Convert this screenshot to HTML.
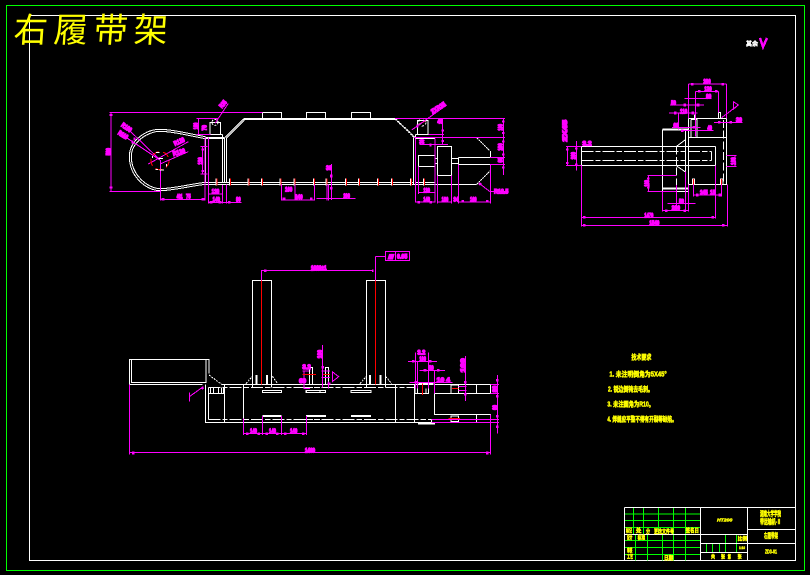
<!DOCTYPE html>
<html><head><meta charset="utf-8"><style>
html,body{margin:0;padding:0;background:#000}
svg{display:block}
path,rect,circle{shape-rendering:crispEdges}
.w{fill:none;stroke:#fff;stroke-width:3}
.wt{fill:none;stroke:#fff;stroke-width:6}
.m{fill:none;stroke:#f0f;stroke-width:3}
.k{fill:none;stroke:#f0f;stroke-width:8}
.r{fill:none;stroke:#f00;stroke-width:3}
.g{fill:none;stroke:#0f0;stroke-width:3}
text{font-family:"Liberation Sans","Noto Sans CJK SC",sans-serif}
.t text{fill:#f0f;font-size:20px;font-weight:bold;stroke:#f0f;stroke-width:4}
.y text{fill:#ff0;font-weight:bold;stroke:#ff0;stroke-width:1.5}
</style></head><body>
<svg width="810" height="575" viewBox="0 0 810 575" xmlns="http://www.w3.org/2000/svg">
<rect width="810" height="575" fill="#000"/>
<rect x="6.5" y="5.5" width="798" height="565" fill="none" stroke="#0f0"/>
<rect x="29.5" y="15.5" width="766" height="545" fill="none" stroke="#fff"/>
<text x="0" y="0" font-size="34" letter-spacing="6" fill="#ff0" transform="translate(13 42) skewX(-4)">右履带架</text>
<text x="746" y="46" font-size="6" fill="#fff" font-weight="bold" stroke="#fff" stroke-width=".4">其余</text>
<path d="M760 38l3 9 4-9" fill="none" stroke="#f0f" stroke-width="2.5"/>

<!-- side view left -->
<g transform="translate(90 90) scale(.33333)">
<path class="w" d="M346 140C300 132 250 118 210 118C170 118 118 150 118 200C118 260 170 302 210 302C250 302 300 288 346 283"/>
<path class="w" d="M346 146C300 138 250 124 210 124C175 124 124 155 124 200C124 256 175 296 210 296C250 296 300 282 346 277"/>
<path class="w" d="M346 277H780M346 283H780"/>
<path class="wt" d="M460 87H780"/>
<path class="w" d="M518 86V67H575V86M649 86V67H707V86"/>
<path class="w" d="M460 87L405 142M463 90L410 143"/>
<path class="w" d="M346 142V277M398 133V277M404 142V277M410 143V277M327 133H398M360 133V97H392V133"/>
<path class="wt" d="M346 144H404"/>
<path class="w" d="M378 265V287M418 265V287M474 265V287M514 265V287M570 265V287M612 265V287M670 265V287M708 265V287M766 265V287"/>
<path class="r" d="M381 265V287M421 265V287M477 265V287M517 265V287M573 265V287M615 265V287M673 265V287M711 265V287M769 265V287"/>
<path class="m" d="M58 67H518M58 304H210M63 67V304M211 210V332M210 328H345M345 142V332M355 142V340M398 285V340M355 337H455M355 312H398M410 283V340M338 170V250M332 170H352M332 252H352M320 85H385M320 133H362M325 85V133M375 100L415 40M210 210L90 130M210 210L115 118M175 222L295 155M210 222L295 185M575 283V332M615 283V332M575 330H672M673 283V332M680 325H780M711 283V332M716 283V332M724 222V330"/>
<path class="k" d="M63 72v6M63 290v6M215 328h8M335 328h8M359 337h8M386 337h8M414 337h8M338 176v6M338 240v6M130 146h6M124 156h6M578 327h8M660 327h8M720 258h8M720 295h8"/>
<circle cx="210" cy="212" r="27" fill="none" stroke="#f00" stroke-width="3" stroke-dasharray="22 12"/>
<path class="w" d="M198 187h10M188 198v6M196 238h8M208 240h14M230 222v8M205 205h14"/>
<circle cx="375" cy="97" r="9" fill="none" stroke="#fff" stroke-width="3" stroke-dasharray="6 4"/>
<g class="t">
<text x="260" y="326" textLength="18" lengthAdjust="spacingAndGlyphs">461</text>
<text x="288" y="326" textLength="14" lengthAdjust="spacingAndGlyphs">75</text>
<text x="365" y="310" textLength="23" lengthAdjust="spacingAndGlyphs">130</text>
<text x="368" y="335" textLength="22" lengthAdjust="spacingAndGlyphs">140</text>
<text x="438" y="335" textLength="14" lengthAdjust="spacingAndGlyphs">80</text>
<text x="585" y="305" textLength="22" lengthAdjust="spacingAndGlyphs">160</text>
<text x="615" y="327" textLength="23" lengthAdjust="spacingAndGlyphs">240</text>
<text x="708" y="240" textLength="17" lengthAdjust="spacingAndGlyphs">30</text>
<text x="760" y="324" textLength="20" lengthAdjust="spacingAndGlyphs">200</text>
<text x="62" y="196" textLength="22" lengthAdjust="spacingAndGlyphs" transform="rotate(-90 62 196)">580</text>
<text x="338" y="224" textLength="22" lengthAdjust="spacingAndGlyphs" transform="rotate(-90 338 224)">120</text>
<text x="324" y="118" textLength="20" lengthAdjust="spacingAndGlyphs" transform="rotate(-90 324 118)">100</text>
<text x="349" y="122" textLength="17" lengthAdjust="spacingAndGlyphs" transform="rotate(-90 349 122)">70</text>
<text x="396" y="56" textLength="24" lengthAdjust="spacingAndGlyphs" transform="rotate(-50 396 56)">R35</text>
<text x="92" y="108" textLength="34" lengthAdjust="spacingAndGlyphs" transform="rotate(35 92 108)">R100</text>
<text x="82" y="132" textLength="32" lengthAdjust="spacingAndGlyphs" transform="rotate(32 82 132)">R110</text>
<text x="255" y="168" textLength="34" lengthAdjust="spacingAndGlyphs" transform="rotate(-25 255 168)">R120</text>
<text x="250" y="198" textLength="38" lengthAdjust="spacingAndGlyphs" transform="rotate(-15 250 198)">R130</text>
</g></g>

<!-- side view right -->
<g transform="translate(340 90) scale(.33333)">
<path class="wt" d="M0 87H165"/>
<path class="w" d="M34 86V67H92V86"/>
<path class="w" d="M0 277H220M0 283H410M226 277H285"/>
<path class="w" stroke-dasharray="6 3" d="M165 87L222 142M168 87L226 143"/>
<path class="w" d="M220 142V283M226 133V283M226 133H265M226 145H285M232 133V92H264V133M285 145V283"/>
<path class="w" d="M235 230V196H285V230H235M292 256V169H335V256H292M285 206H292M285 220H292M335 206H355M335 220H355M355 203H450M355 223H450M355 203V223M451 183V203M451 243V223"/>
<path class="w" stroke-dasharray="6 2" d="M410 143L450 183M410 283L450 243"/>
<path class="w" d="M16 265V287M55 265V287M112 265V287M154 265V287M211 265V287M250 265V287"/>
<path class="r" d="M19 265V287M58 265V287M115 265V287M157 265V287M214 265V287M253 265V287M238 102L258 92"/>
<circle cx="247" cy="97" r="11" fill="none" stroke="#fff" stroke-width="3" stroke-dasharray="7 5"/>
<path class="m" d="M165 85H495M490 85V255M222 142H495M450 203H495M450 223H495M308 85V165M238 163H324M265 133H312M215 120L320 45M226 145V338M285 145V338M292 256V340M335 256V340M355 223V340M451 223V340M226 336H285M292 336H335M355 336H451M235 308H285M235 230V312M415 278L450 305H505M-2 325H46"/>
<path class="k" d="M490 92v6M490 126v6M490 152v6M490 190v6M490 230v6M308 118v6M308 150v6M268 165h6M230 108h6M418 280l5 4M232 337h8M268 337h8M364 334h8M438 334h8"/>
<g class="t">
<text x="250" y="307" textLength="20" lengthAdjust="spacingAndGlyphs">130</text>
<text x="250" y="335" textLength="20" lengthAdjust="spacingAndGlyphs">140</text>
<text x="305" y="335" textLength="20" lengthAdjust="spacingAndGlyphs">100</text>
<text x="340" y="335" textLength="15" lengthAdjust="spacingAndGlyphs">34</text>
<text x="390" y="335" textLength="20" lengthAdjust="spacingAndGlyphs">100</text>
<text x="462" y="310" textLength="43" lengthAdjust="spacingAndGlyphs">R12.5</text>
<text x="292" y="100" textLength="16" lengthAdjust="spacingAndGlyphs">40</text>
<text x="252" y="162" textLength="14" lengthAdjust="spacingAndGlyphs" transform="rotate(-90 252 162)">30</text>
<text x="488" y="122" textLength="20" lengthAdjust="spacingAndGlyphs" transform="rotate(-90 488 122)">100</text>
<text x="488" y="182" textLength="22" lengthAdjust="spacingAndGlyphs" transform="rotate(-90 488 182)">100</text>
<text x="488" y="218" textLength="16" lengthAdjust="spacingAndGlyphs" transform="rotate(-90 488 218)">60</text>
<text x="278" y="72" textLength="48" lengthAdjust="spacingAndGlyphs" transform="rotate(-32 278 72)">2XR35</text>
</g></g>

<!-- end view -->
<g transform="translate(550 70) scale(.33333)">
<path class="w" d="M94 229H497M94 287H497M94 229V287M497 229V287M485 244V272"/>
<path class="w" stroke-dasharray="36 6 16 6" d="M94 244H485M94 272H485"/>
<path class="wt" d="M337 179H415M337 356H415"/>
<path class="w" d="M337 178V365H415M407 178V360M415 145V343M415 145H530V343H415M415 203H530M530 145V343M423 203V148M441 203V148H423M380 229L405 210M380 288L405 305"/>
<path class="w" stroke-dasharray="24 8" d="M379 229V345M520 150V340"/>
<path class="w" d="M505 145V127H512V145"/>
<path class="wt" d="M435 133V148"/>
<path class="w" d="M427 343V327H434V343M511 343V327H519V343"/>
<path class="r" d="M430 327V343M515 327V343"/>
<path class="m" d="M415 42H530M415 42V145M530 42V145M436 64H505M436 64V200M505 64V127M403 85H485M360 105H462M357 129H442M385 129V178M492 157H578M366 172H452M393 182H490M515 143L565 105M550 95L565 105L550 118ZM48 229H94M48 287H94M52 229V287M79 213V302M530 256H560M530 290H560M555 256V290M94 287V470M533 343V470M94 466H533M497 287V445M94 442H497M337 365V425M415 343V425M337 422H415M352 400H437M379 345V420M406 305V420M292 317H378M292 364H378M295 317V364M430 343V380M515 343V380M430 375H515"/>
<path class="k" d="M423 43h8M514 43h8M444 64h8M495 64h8M400 105h8M440 105h8M372 129h8M424 129h8M504 157h8M538 157h8M393 182h8M428 172h8M79 232v6M79 280v6M52 236v6M52 276v6M99 442h8M484 442h8M99 466h8M516 466h8M345 422h8M400 422h8M295 323v6M295 350v6M438 375h8M505 375h8"/>
<g class="t">
<text x="460" y="40" textLength="22" lengthAdjust="spacingAndGlyphs">200</text>
<text x="463" y="63" textLength="22" lengthAdjust="spacingAndGlyphs">130</text>
<text x="468" y="85" textLength="16" lengthAdjust="spacingAndGlyphs">80</text>
<text x="363" y="105" textLength="15" lengthAdjust="spacingAndGlyphs">50</text>
<text x="390" y="130" textLength="22" lengthAdjust="spacingAndGlyphs">110</text>
<text x="558" y="156" textLength="18" lengthAdjust="spacingAndGlyphs">30</text>
<text x="370" y="172" textLength="16" lengthAdjust="spacingAndGlyphs">60</text>
<text x="472" y="180" textLength="14" lengthAdjust="spacingAndGlyphs">40</text>
<text x="450" y="373" textLength="23" lengthAdjust="spacingAndGlyphs">345</text>
<text x="480" y="373" textLength="15" lengthAdjust="spacingAndGlyphs">15</text>
<text x="387" y="400" textLength="15" lengthAdjust="spacingAndGlyphs">50</text>
<text x="365" y="420" textLength="25" lengthAdjust="spacingAndGlyphs">280</text>
<text x="283" y="443" textLength="27" lengthAdjust="spacingAndGlyphs">1470</text>
<text x="298" y="465" textLength="30" lengthAdjust="spacingAndGlyphs">1540</text>
<text x="97" y="226" textLength="28" lengthAdjust="spacingAndGlyphs">3.2</text>
<text x="77" y="268" textLength="22" lengthAdjust="spacingAndGlyphs" transform="rotate(-90 77 268)">200</text>
<text x="51" y="215" textLength="65" lengthAdjust="spacingAndGlyphs" transform="rotate(-90 51 215)">2X45</text>
<text x="297" y="350" textLength="20" lengthAdjust="spacingAndGlyphs" transform="rotate(-90 297 350)">160</text>
<text x="557" y="285" textLength="23" lengthAdjust="spacingAndGlyphs" transform="rotate(-90 557 285)">100</text>
</g></g>

<!-- plan left -->
<g transform="translate(120 245) scale(.33333)">
<path class="w" d="M28 418V343H267V385M35 343V412H258V343M28 418H247M256 418V533H600M265 428V523M305 418H600M313 418V533M370 418V533M397 428V106H455V428"/>
<path class="w" stroke-dasharray="36 6 16 6" d="M265 428H600M265 523H600"/>
<path class="w" stroke-dasharray="6 3" d="M267 390L305 418M378 416L397 394M457 394L473 416"/>
<path class="w" d="M265 428V446H310V428M272 428V446M280 428V446M296 428V446M304 428V446M427 436H485V443H427ZM558 436H600V443H558ZM568 418V367H578V418"/>
<path class="wt" d="M410 390V418M441 390V418M427 513H485M558 513H600"/>
<path class="r" d="M424 106V418M548 388H588"/>
<path class="m" d="M424 75V106M424 76H600M28 418V628M28 622H600M370 520V570M427 513V570M485 513V570M559 513V570M370 566H560M208 442V470M208 455L250 425M552 378V430H570M548 378H572"/>
<path class="k" d="M378 566h8M412 566h8M436 566h8M468 566h8M492 566h8M546 566h8M245 431l5-4M432 77h8M36 624h8"/>
<g class="t">
<text x="390" y="564" textLength="21" lengthAdjust="spacingAndGlyphs">140</text>
<text x="447" y="564" textLength="21" lengthAdjust="spacingAndGlyphs">140</text>
<text x="510" y="564" textLength="22" lengthAdjust="spacingAndGlyphs">140</text>
<text x="555" y="622" textLength="30" lengthAdjust="spacingAndGlyphs">1460</text>
<text x="573" y="76" textLength="27" lengthAdjust="spacingAndGlyphs">1000</text>
<text x="547" y="372" textLength="25" lengthAdjust="spacingAndGlyphs">3.2</text>
<text x="537" y="414" textLength="21" lengthAdjust="spacingAndGlyphs">60</text>
</g></g>

<!-- plan right -->
<g transform="translate(300 245) scale(.33333)">
<path class="w" d="M199 428V106H257V428M0 418H400M0 533H395M286 418V533M343 418V533"/>
<path class="w" stroke-dasharray="36 6 16 6" d="M0 428H345M0 523H395"/>
<path class="w" stroke-dasharray="6 3" d="M180 416L199 394M257 394L275 416"/>
<path class="w" d="M19 436H77V443H19ZM153 436H213V443H153ZM28 418V367H38V418M76 418V367H86V418M403 418H572V445H403ZM403 445V508H572V533M529 418V445M529 508V533M395 533V523M453 420H476V445H453ZM453 513H476V530H453ZM345 418V445H385V418M352 430V445M378 430V445"/>
<path class="wt" d="M210 390V418M242 390V418M18 513H78M153 513H213M354 535H405M355 416H400"/>
<path class="r" d="M226 106V418M367 415V450M456 430H476M445 521H480M10 388H48M68 388H90"/>
<path class="m" d="M226 34V106M226 34H256M256 19H329V47H256ZM286 19V47M0 76H220M0 622H572M571 508V628M395 523H597M395 532H597M592 390V565M572 418H597M572 445H597M496 333V468M358 376H435M324 349H411M346 322V430M352 349V430M386 322V430M328 412H458M403 375V445M67 300V428M98 381V409L116 395ZM20 513V570M0 566H20M12 410V430H30M86 410V430M64 378H90M64 398H90M476 424H500M476 436H500"/>
<path class="k" d="M592 402v8M592 450v8M592 510v8M592 541v8M496 408v8M496 444v8M336 349h8M386 349h8M371 376h8M411 376h8M343 412h8M68 363v8M6 566h8M87 412v6M216 77h4M558 624h8"/>
<g class="t">
<text x="33" y="75" textLength="47" lengthAdjust="spacingAndGlyphs">1000±1</text>
<text x="15" y="622" textLength="30" lengthAdjust="spacingAndGlyphs">1460</text>
<text x="265" y="42" textLength="16" lengthAdjust="spacingAndGlyphs">//</text>
<text x="291" y="41" textLength="31" lengthAdjust="spacingAndGlyphs">0.05</text>
<text x="8" y="372" textLength="24" lengthAdjust="spacingAndGlyphs">3.2</text>
<text x="0" y="414" textLength="18" lengthAdjust="spacingAndGlyphs">60</text>
<text x="66" y="340" textLength="25" lengthAdjust="spacingAndGlyphs" transform="rotate(-90 66 340)">100</text>
<text x="352" y="329" textLength="24" lengthAdjust="spacingAndGlyphs">3.2</text>
<text x="358" y="348" textLength="20" lengthAdjust="spacingAndGlyphs">100</text>
<text x="385" y="375" textLength="16" lengthAdjust="spacingAndGlyphs">50</text>
<text x="410" y="411" textLength="40" lengthAdjust="spacingAndGlyphs">10 4</text>
<text x="495" y="382" textLength="42" lengthAdjust="spacingAndGlyphs" transform="rotate(-90 495 382)">100</text>
<text x="591" y="442" textLength="20" lengthAdjust="spacingAndGlyphs" transform="rotate(-90 591 442)">80</text>
<text x="591" y="495" textLength="15" lengthAdjust="spacingAndGlyphs" transform="rotate(-90 591 495)">60</text>
</g></g>

<!-- notes -->
<g class="y" transform="translate(590 345) scale(.33333)">
<text x="124" y="44" font-size="20" textLength="60" lengthAdjust="spacingAndGlyphs">技术要求</text>
<text x="58" y="95" font-size="21" textLength="172" lengthAdjust="spacingAndGlyphs">1. 未注明倒角为5X45°</text>
<text x="54" y="140" font-size="21" textLength="135" lengthAdjust="spacingAndGlyphs">2. 锐边倒钝去毛刺。</text>
<text x="52" y="185" font-size="21" textLength="140" lengthAdjust="spacingAndGlyphs">3. 未注圆角为R10。</text>
<text x="52" y="230" font-size="21" textLength="208" lengthAdjust="spacingAndGlyphs">4. 焊缝应平整不得有开裂等缺陷。</text>
</g>

<!-- title block -->
<g transform="translate(615 500) scale(.33333)">
<path class="g" d="M28 42H256M28 62H256M28 82H256M28 122H256M28 142H256M28 163H256M55 22V103M85 22V103M130 22V103M175 22V103M211 22V103M61 103V181M97 103V181M142 103V181M175 103V181M211 103V181M275 130V157M292 130V157M313 130V157M331 103V157M364 103V157"/>
<path class="w" d="M28 22H541M28 22V181M256 22V181M397 22V181M256 103H397M397 88H541M256 130H541M256 157H397M28 103H256"/>
<g class="y">
<text x="435" y="48" font-size="20" textLength="63" lengthAdjust="spacingAndGlyphs">湖南大学学院</text>
<text x="435" y="72" font-size="20" textLength="63" lengthAdjust="spacingAndGlyphs">带运输机-Ⅱ</text>
<text x="447" y="114" font-size="20" textLength="42" lengthAdjust="spacingAndGlyphs">右履带架</text>
<text x="450" y="161" font-size="16" textLength="36" lengthAdjust="spacingAndGlyphs">ZD3-01</text>
<text x="306" y="65" font-size="14" textLength="46" lengthAdjust="spacingAndGlyphs" font-style="italic">HT200</text>
<text x="33" y="98" font-size="17" textLength="18" lengthAdjust="spacingAndGlyphs">标记</text>
<text x="63" y="98" font-size="17" textLength="16" lengthAdjust="spacingAndGlyphs">处</text>
<text x="93" y="100" font-size="17" textLength="12" lengthAdjust="spacingAndGlyphs">分</text>
<text x="117" y="100" font-size="17" textLength="60" lengthAdjust="spacingAndGlyphs">更改文件号</text>
<text x="212" y="98" font-size="17" textLength="40" lengthAdjust="spacingAndGlyphs">签名日</text>
<text x="36" y="118" font-size="17" textLength="16" lengthAdjust="spacingAndGlyphs">设计</text>
<text x="68" y="118" font-size="17" textLength="22" lengthAdjust="spacingAndGlyphs">标准</text>
<text x="36" y="157" font-size="17" textLength="16" lengthAdjust="spacingAndGlyphs">审核</text>
<text x="36" y="176" font-size="15" textLength="18" lengthAdjust="spacingAndGlyphs">工艺</text>
<text x="147" y="180" font-size="17" textLength="28" lengthAdjust="spacingAndGlyphs">日期</text>
<text x="288" y="176" font-size="16" textLength="12" lengthAdjust="spacingAndGlyphs">共</text>
<text x="318" y="176" font-size="16" textLength="12" lengthAdjust="spacingAndGlyphs">张</text>
<text x="338" y="176" font-size="16" textLength="10" lengthAdjust="spacingAndGlyphs">第</text>
<text x="368" y="176" font-size="16" textLength="12" lengthAdjust="spacingAndGlyphs">张</text>
<text x="368" y="122" font-size="16" textLength="28" lengthAdjust="spacingAndGlyphs">比例</text>
<text x="372" y="147" font-size="12" textLength="18" lengthAdjust="spacingAndGlyphs">1:10</text>
</g></g>
</svg>
</body></html>
